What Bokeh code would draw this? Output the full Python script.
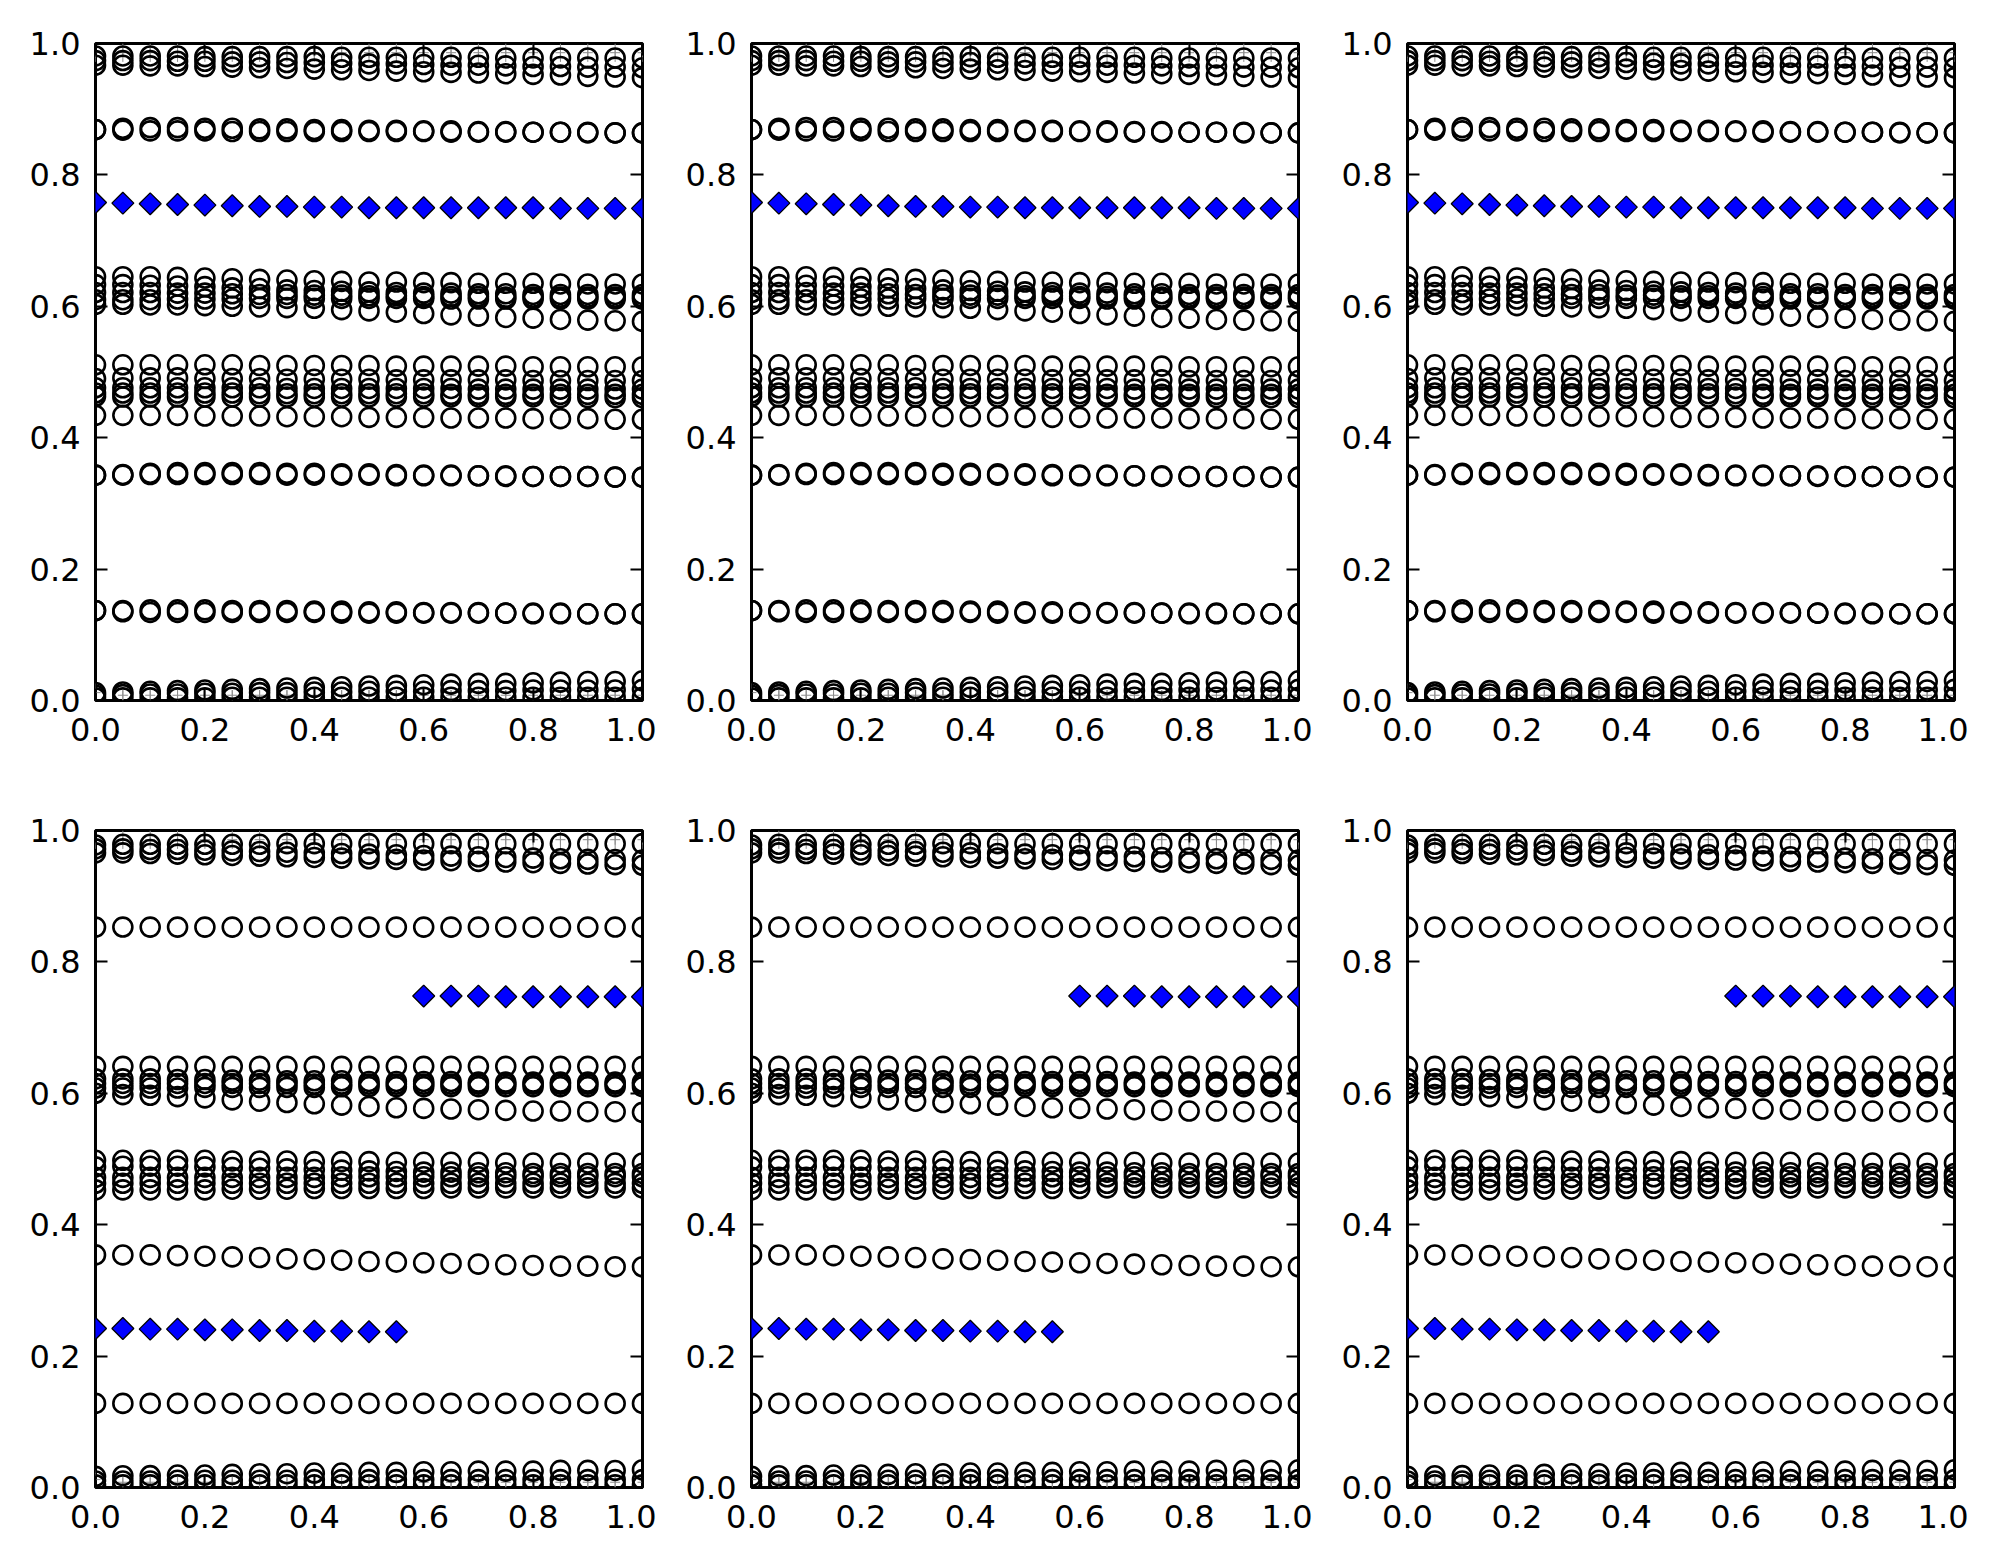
from bokeh.plotting import figure
from bokeh.layouts import column, row
from bokeh.models import Range1d, LinearAxis, FixedTicker, PrintfTickFormatter
from bokeh.embed import file_html
from bokeh.resources import INLINE
import math

x_vals = [0.0, 0.05, 0.1, 0.15, 0.2, 0.25, 0.3, 0.35, 0.4, 0.45, 0.5,
          0.55, 0.6, 0.65, 0.7, 0.75, 0.8, 0.85, 0.9, 0.95, 1.0]
tick_vals = [0.0, 0.2, 0.4, 0.6, 0.8, 1.0]

# ---------- top-row panels ----------
top_n1 = [0.981,0.981,0.981,0.981,0.980,0.980,0.980,0.980,0.980,0.979,0.979,0.979,0.979,0.979,0.979,0.978,0.978,0.978,0.978,0.978,0.978]
top_n2 = [0.974,0.974,0.974,0.973,0.973,0.972,0.972,0.971,0.971,0.970,0.969,0.969,0.968,0.967,0.967,0.966,0.965,0.965,0.964,0.964,0.963]
top_n3 = [0.967,0.967,0.966,0.966,0.965,0.964,0.963,0.962,0.961,0.960,0.959,0.958,0.957,0.956,0.955,0.954,0.953,0.952,0.950,0.949,0.948]
top_u1 = [0.869,0.871,0.872,0.872,0.871,0.871,0.870,0.870,0.869,0.869,0.868,0.868,0.867,0.867,0.866,0.866,0.865,0.865,0.865,0.864,0.864]
top_u2 = [0.869,0.868,0.867,0.867,0.867,0.866,0.866,0.866,0.866,0.866,0.866,0.866,0.866,0.865,0.865,0.865,0.865,0.865,0.864,0.864,0.864]
top_c1 = [0.645,0.645,0.645,0.644,0.643,0.642,0.641,0.640,0.639,0.638,0.637,0.637,0.636,0.636,0.635,0.635,0.635,0.634,0.634,0.634,0.634]
top_c2 = [0.633,0.633,0.632,0.631,0.630,0.628,0.627,0.625,0.624,0.623,0.622,0.621,0.620,0.620,0.619,0.619,0.618,0.618,0.618,0.618,0.618]
top_c3 = [0.621,0.621,0.621,0.620,0.620,0.619,0.618,0.618,0.617,0.617,0.616,0.616,0.615,0.615,0.615,0.614,0.614,0.614,0.614,0.614,0.614]
top_c4 = [0.610,0.610,0.610,0.611,0.611,0.611,0.612,0.612,0.612,0.612,0.612,0.612,0.612,0.611,0.611,0.611,0.611,0.611,0.611,0.611,0.611]
top_c5 = [0.603,0.603,0.602,0.602,0.601,0.600,0.599,0.598,0.597,0.595,0.593,0.591,0.589,0.587,0.585,0.583,0.582,0.580,0.579,0.578,0.577]
top_d1 = [0.511,0.511,0.511,0.511,0.511,0.511,0.510,0.510,0.510,0.510,0.510,0.509,0.509,0.509,0.509,0.509,0.508,0.508,0.508,0.508,0.508]
top_d2 = [0.490,0.491,0.491,0.491,0.490,0.490,0.490,0.489,0.489,0.489,0.489,0.488,0.488,0.488,0.488,0.488,0.487,0.487,0.487,0.487,0.487]
top_d3 = [0.476,0.476,0.476,0.476,0.476,0.476,0.476,0.475,0.475,0.475,0.475,0.475,0.475,0.475,0.474,0.474,0.474,0.474,0.474,0.474,0.474]
top_d4 = [0.468,0.468,0.468,0.468,0.468,0.468,0.467,0.467,0.467,0.467,0.467,0.467,0.467,0.466,0.466,0.466,0.466,0.466,0.466,0.466,0.466]
top_d5 = [0.463,0.462,0.462,0.462,0.462,0.462,0.462,0.462,0.462,0.462,0.462,0.462,0.462,0.462,0.462,0.462,0.462,0.461,0.461,0.461,0.461]
top_e1 = [0.434,0.434,0.434,0.434,0.433,0.433,0.433,0.432,0.432,0.432,0.431,0.431,0.431,0.430,0.430,0.430,0.429,0.429,0.429,0.428,0.428]
top_f1 = [0.343,0.343,0.344,0.344,0.344,0.344,0.344,0.343,0.343,0.343,0.343,0.342,0.342,0.342,0.342,0.341,0.341,0.341,0.341,0.340,0.340]
top_f2 = [0.343,0.344,0.346,0.347,0.347,0.347,0.347,0.346,0.346,0.345,0.345,0.344,0.343,0.343,0.342,0.342,0.341,0.341,0.341,0.340,0.340]
top_g1 = [0.137,0.137,0.138,0.138,0.138,0.137,0.137,0.137,0.136,0.136,0.135,0.135,0.134,0.134,0.134,0.133,0.133,0.133,0.132,0.132,0.132]
top_g2 = [0.137,0.135,0.134,0.134,0.134,0.134,0.134,0.134,0.134,0.133,0.133,0.133,0.133,0.133,0.133,0.133,0.132,0.132,0.132,0.132,0.132]
top_h1 = [0.012,0.013,0.014,0.015,0.016,0.017,0.018,0.019,0.020,0.021,0.022,0.023,0.024,0.025,0.026,0.026,0.027,0.028,0.029,0.029,0.030]
top_h2 = [0.008,0.009,0.010,0.010,0.011,0.011,0.012,0.012,0.013,0.013,0.014,0.014,0.014,0.015,0.015,0.015,0.016,0.016,0.016,0.016,0.017]
top_h3 = [0.004,0.004,0.004,0.004,0.004,0.005,0.005,0.005,0.005,0.005,0.005,0.005,0.005,0.005,0.005,0.005,0.005,0.005,0.005,0.005,0.005]
top_diamond = [0.758,0.757,0.756,0.755,0.754,0.753,0.752,0.752,0.751,0.751,0.750,0.750,0.750,0.750,0.750,0.750,0.750,0.749,0.749,0.749,0.749]

# ---------- bottom-row panels ----------
bot_n1 = [0.978,0.979,0.979,0.979,0.979,0.979,0.979,0.980,0.980,0.980,0.980,0.980,0.980,0.980,0.980,0.980,0.980,0.980,0.980,0.980,0.980]
bot_n2 = [0.972,0.972,0.971,0.971,0.970,0.969,0.968,0.967,0.966,0.965,0.964,0.963,0.962,0.961,0.960,0.959,0.958,0.957,0.956,0.956,0.955]
bot_n3 = [0.966,0.966,0.965,0.964,0.963,0.962,0.961,0.960,0.959,0.958,0.957,0.956,0.955,0.954,0.953,0.952,0.951,0.950,0.949,0.948,0.947]
bot_u1 = [0.853,0.853,0.853,0.853,0.853,0.853,0.853,0.853,0.853,0.853,0.853,0.853,0.853,0.853,0.853,0.853,0.853,0.853,0.853,0.853,0.853]
bot_c1 = [0.641,0.641,0.641,0.641,0.641,0.641,0.641,0.641,0.641,0.641,0.641,0.641,0.641,0.641,0.641,0.641,0.641,0.641,0.641,0.641,0.641]
bot_c2 = [0.622,0.622,0.622,0.621,0.621,0.620,0.620,0.619,0.619,0.619,0.618,0.618,0.618,0.618,0.617,0.617,0.617,0.617,0.617,0.617,0.617]
bot_c3 = [0.615,0.615,0.615,0.615,0.615,0.615,0.615,0.615,0.614,0.614,0.614,0.614,0.614,0.614,0.614,0.614,0.614,0.614,0.614,0.614,0.614]
bot_c4 = [0.608,0.608,0.608,0.608,0.609,0.609,0.609,0.609,0.609,0.610,0.610,0.610,0.610,0.610,0.610,0.610,0.610,0.610,0.610,0.610,0.610]
bot_c5 = [0.600,0.598,0.597,0.595,0.593,0.590,0.588,0.586,0.584,0.582,0.580,0.578,0.577,0.576,0.575,0.574,0.573,0.573,0.572,0.572,0.571]
bot_d1 = [0.498,0.498,0.498,0.498,0.498,0.497,0.497,0.497,0.496,0.496,0.496,0.495,0.495,0.495,0.495,0.494,0.494,0.494,0.494,0.494,0.494]
bot_d2 = [0.488,0.489,0.489,0.489,0.488,0.487,0.486,0.485,0.484,0.483,0.482,0.481,0.480,0.480,0.479,0.479,0.478,0.478,0.478,0.478,0.478]
bot_d3 = [0.472,0.472,0.472,0.472,0.472,0.472,0.472,0.472,0.472,0.473,0.473,0.473,0.473,0.473,0.473,0.473,0.473,0.473,0.473,0.473,0.473]
bot_d4 = [0.463,0.463,0.463,0.463,0.463,0.463,0.463,0.463,0.463,0.463,0.463,0.463,0.463,0.463,0.463,0.463,0.463,0.463,0.463,0.463,0.463]
bot_d5 = [0.453,0.453,0.453,0.453,0.453,0.454,0.454,0.454,0.455,0.455,0.455,0.455,0.455,0.456,0.456,0.456,0.456,0.456,0.456,0.456,0.456]
bot_f1 = [0.354,0.354,0.354,0.353,0.352,0.351,0.350,0.348,0.347,0.346,0.344,0.343,0.342,0.341,0.340,0.339,0.338,0.337,0.337,0.336,0.336]
bot_g1 = [0.128,0.128,0.128,0.128,0.128,0.128,0.128,0.128,0.128,0.128,0.128,0.128,0.128,0.128,0.128,0.128,0.128,0.128,0.128,0.128,0.128]
bot_h1 = [0.017,0.018,0.018,0.019,0.019,0.020,0.021,0.021,0.022,0.022,0.023,0.023,0.024,0.024,0.025,0.025,0.025,0.026,0.026,0.026,0.027]
bot_h2 = [0.010,0.010,0.010,0.011,0.011,0.011,0.011,0.011,0.012,0.012,0.012,0.012,0.012,0.012,0.012,0.012,0.012,0.012,0.012,0.012,0.012]
bot_h3 = [0.004,0.004,0.004,0.004,0.004,0.004,0.004,0.004,0.004,0.004,0.004,0.004,0.004,0.004,0.004,0.004,0.004,0.004,0.004,0.004,0.004]
bot_diamond = [0.242,0.242,0.241,0.241,0.240,0.240,0.239,0.239,0.238,0.238,0.237,0.237,
               0.748,0.748,0.748,0.747,0.747,0.747,0.747,0.747,0.747]

# small grey error-bar probes near the edges
probe_top_y = [0.986,0.986,0.986,0.986,0.986,0.986,0.986,0.986,0.986,0.986,0.986,0.986,0.986,0.986,0.986,0.986,0.986,0.986,0.986,0.986,0.986]
probe_top_err = [0.014,0.014,0.014,0.014,0.014,0.014,0.014,0.014,0.014,0.014,0.014,0.014,0.014,0.014,0.014,0.014,0.014,0.014,0.014,0.014,0.014]
probe_bot_y = [0.012,0.008,0.008,0.008,0.008,0.008,0.008,0.008,0.008,0.008,0.008,0.008,0.008,0.008,0.008,0.008,0.008,0.008,0.008,0.008,0.008]
probe_bot_err = [0.014,0.008,0.008,0.008,0.008,0.008,0.008,0.008,0.008,0.008,0.008,0.008,0.008,0.008,0.008,0.008,0.008,0.008,0.008,0.008,0.008]

TOP_CIRCLES = [top_n1, top_n2, top_n3, top_u1, top_u2, top_c1, top_c2, top_c3, top_c4, top_c5,
               top_d1, top_d2, top_d3, top_d4, top_d5, top_e1, top_f1, top_f2, top_g1, top_g2,
               top_h1, top_h2, top_h3]
BOT_CIRCLES = [bot_n1, bot_n2, bot_n3, bot_u1, bot_c1, bot_c2, bot_c3, bot_c4, bot_c5,
               bot_d1, bot_d2, bot_d3, bot_d4, bot_d5, bot_f1, bot_g1, bot_h1, bot_h2, bot_h3]

FONT = "DejaVu Sans"
FONT_SIZE = "32px"


def style_axis(ax, labels=True, standoff=15):
    ax.ticker = FixedTicker(ticks=tick_vals)
    ax.major_tick_in = 12
    ax.major_tick_out = 0
    ax.major_tick_line_width = 2
    ax.major_tick_line_color = "black"
    ax.minor_tick_line_color = None
    ax.axis_line_color = None
    if labels:
        ax.formatter = PrintfTickFormatter(format="%.1f")
        ax.major_label_text_font = FONT
        ax.major_label_text_font_size = FONT_SIZE
        ax.major_label_text_color = "black"
        ax.major_label_standoff = standoff
    else:
        ax.major_label_text_font_size = "1px"
        ax.major_label_text_color = None
        ax.major_label_standoff = 0


def make_panel(circles, diamonds, height, bottom_border):
    p = figure(width=656, height=height, output_backend="svg", toolbar_location=None,
               x_range=Range1d(0, 1), y_range=Range1d(0, 1),
               min_border_left=95, min_border_right=14, min_border_top=43,
               min_border_bottom=bottom_border)
    p.grid.visible = False
    p.outline_line_color = "black"
    p.outline_line_width = 3
    p.background_fill_color = "white"
    p.border_fill_color = "white"
    style_axis(p.xaxis[0], standoff=17)
    style_axis(p.yaxis[0], standoff=15)
    ax_r = LinearAxis()
    style_axis(ax_r, labels=False)
    p.add_layout(ax_r, "right")
    ax_t = LinearAxis()
    style_axis(ax_t, labels=False)
    p.add_layout(ax_t, "above")

    # grey error-bar probes
    p.segment(x0=x_vals, y0=[y - e for y, e in zip(probe_top_y, probe_top_err)],
              x1=x_vals, y1=[y + e for y, e in zip(probe_top_y, probe_top_err)],
              line_color="#8c8c8c", line_width=1)
    p.segment(x0=x_vals, y0=[y - e for y, e in zip(probe_bot_y, probe_bot_err)],
              x1=x_vals, y1=[y + e for y, e in zip(probe_bot_y, probe_bot_err)],
              line_color="#8c8c8c", line_width=1)
    p.scatter(x=x_vals, y=probe_top_y, marker="cross", size=10, line_color="#8c8c8c", line_width=1)
    p.scatter(x=x_vals, y=probe_bot_y, marker="cross", size=10, line_color="#8c8c8c", line_width=1)

    for ys in circles:
        p.scatter(x=x_vals, y=ys, marker="circle", size=19, fill_color=None,
                  line_color="black", line_width=2.6)
    p.scatter(x=x_vals, y=diamonds, marker="square", angle=math.pi / 4, size=15.5,
              fill_color="#0000ff", line_color="black", line_width=1.3)
    return p


top_panels = [make_panel(TOP_CIRCLES, top_diamond, 787, 87) for _ in range(3)]
bot_panels = [make_panel(BOT_CIRCLES, bot_diamond, 765, 65) for _ in range(3)]

layout = column(row(*top_panels), row(*bot_panels))
open("out.html", "w").write(file_html(layout, INLINE))
